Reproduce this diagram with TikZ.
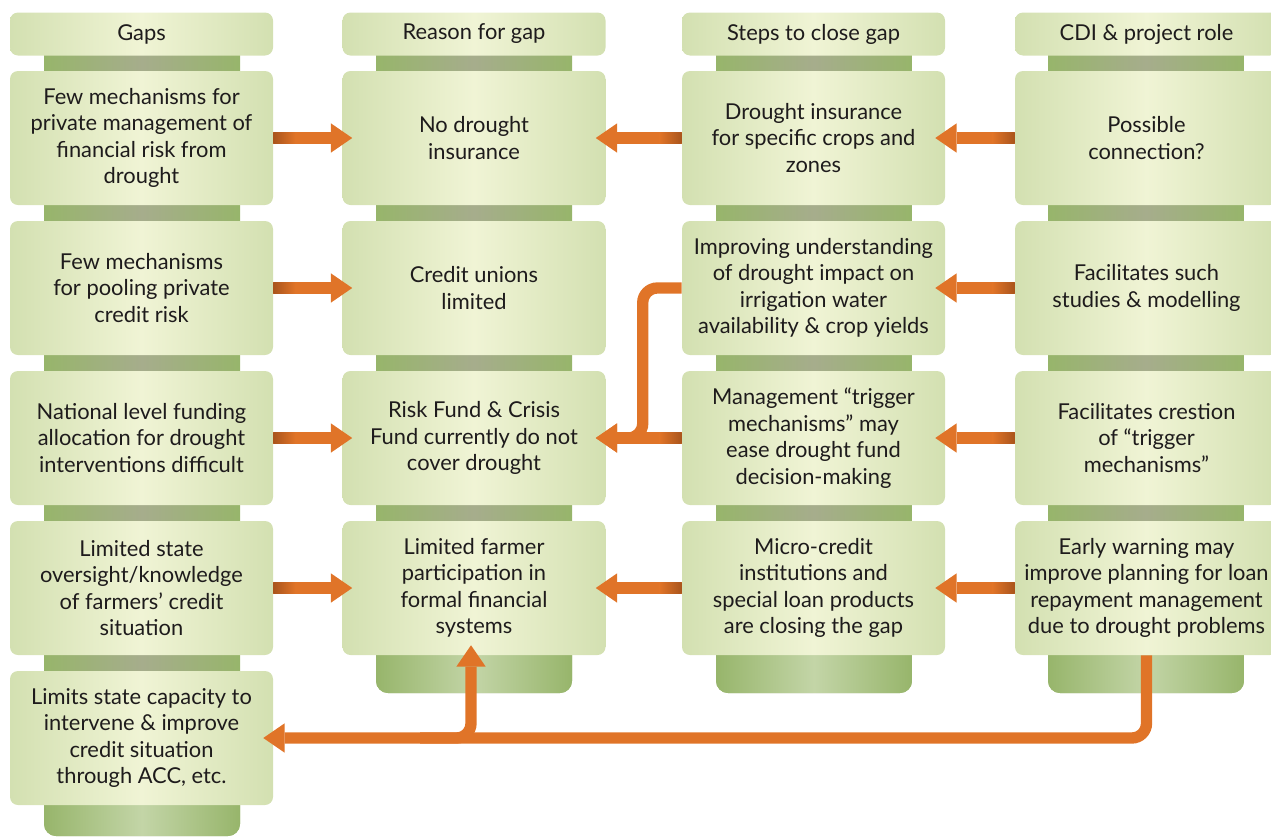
\documentclass[tikz,border=0pt]{standalone}
\usepackage{fontspec}
\setmainfont{Lato}
\usetikzlibrary{arrows.meta,calc}
\definecolor{boxedge}{HTML}{D3E0B1}
\definecolor{boxmid}{HTML}{F0F4D5}
\definecolor{pillaredge}{HTML}{97B56B}
\definecolor{pillarmid}{HTML}{A6AD8C}
\definecolor{pillarlight}{HTML}{C3D5A7}
\definecolor{flow}{HTML}{E07428}
\definecolor{flowdark}{HTML}{A9541C}
\definecolor{ink}{HTML}{1E1B1C}
\begin{document}
\begin{tikzpicture}[x=0.75pt,y=-0.75pt,
  card/.style={minimum width=197.25pt, minimum height=100.5pt, rounded corners=6pt,
    left color=boxedge, right color=boxedge, middle color=boxmid,
    align=center, text=ink, inner sep=0pt,
    font=\fontsize{16.4}{19.9}\selectfont},
  head/.style={card, minimum height=32.25pt},
  pillar/.style={left color=pillaredge, right color=pillaredge, middle color=pillarmid, rounded corners=9pt},
  pillarfoot/.style={left color=pillaredge, right color=pillaredge, middle color=pillarlight, rounded corners=9pt},
  flowarrow/.style={draw=flow, line width=8.5pt, rounded corners=11pt,
    -{Triangle[width=22pt,length=16pt,line width=0pt]}},
  shaftL/.style={left color=flowdark, right color=flow},
  shaftR/.style={left color=flow, right color=flowdark}]
\useasboundingbox (0,0) rectangle (1271,836);
\clip (0,0) rectangle (1271,836);

% column pillars
\shade[pillar] (44,40) rectangle (240,836);
\shade[pillarfoot] (44,790) rectangle (240,836);
\foreach \cx in {474,814,1146}{
  \shade[pillar] (\cx-98,40) rectangle (\cx+98,693);
  \shade[pillarfoot] (\cx-98,640) rectangle (\cx+98,693);
}

% headers
\node[head] (h1) at (141.5,34) {Gaps};
\node[head] (h2) at (474,34) {Reason for gap};
\node[head] (h3) at (813.5,34) {Steps to close gap};
\node[head] (h4) at (1146.5,34) {CDI \& project role};

% gaps
\node[card] (g1) at (141.5,138) {Few mechanisms for\\private management of\\financial risk from\\drought};
\node[card] (g2) at (141.5,288) {Few mechanisms\\for pooling private\\credit risk};
\node[card] (g3) at (141.5,438) {National level funding\\allocation for drought\\interventions difficult};
\node[card] (g4) at (141.5,588) {Limited state\\oversight/knowledge\\of farmers’ credit\\situation};
\node[card] (g5) at (141.5,738) {Limits state capacity to\\intervene \& improve\\credit situation\\through ACC, etc.};

% reasons
\node[card] (r1) at (474,138) {No drought\\insurance};
\node[card] (r2) at (474,288) {Credit unions\\limited};
\node[card] (r3) at (474,438) {Risk Fund \& Crisis\\Fund currently do not\\cover drought};
\node[card] (r4) at (474,588) {Limited farmer\\participation in\\formal financial\\systems};

% steps
\node[card] (s1) at (813.5,138) {Drought insurance\\for specific crops and\\zones};
\node[card] (s2) at (813.5,288) {Improving understanding\\of drought impact on\\irrigation water\\availability \& crop yields};
\node[card] (s3) at (813.5,438) {Management “trigger\\mechanisms” may\\ease drought fund\\decision-making};
\node[card] (s4) at (813.5,588) {Micro-credit\\institutions and\\special loan products\\are closing the gap};

% roles
\node[card] (c1) at (1146.5,138) {Possible\\connection?};
\node[card] (c2) at (1146.5,288) {Facilitates such\\studies \& modelling};
\node[card] (c3) at (1146.5,438) {Facilitates crestion\\of “trigger\\mechanisms”};
\node[card] (c4) at (1146.5,588) {Early warning may\\improve planning for loan\\repayment management\\due to drought problems};

% straight links
\foreach \i in {1,2,3,4}{
  \draw[flowarrow] (g\i.east) -- ($(r\i.west)+(10,0)$);
  \draw[flowarrow] (c\i.west) -- ($(s\i.east)+(-10,0)$);
  \shade[shaftL] ($(g\i.east)+(0,-5.67)$) rectangle ++(22,11.33);
  \shade[shaftR] ($(c\i.west)+(-22,-5.67)$) rectangle ++(22,11.33);
}
\foreach \i in {1,3,4}{
  \draw[flowarrow] (s\i.west) -- ($(r\i.east)+(-10,0)$);
  \shade[shaftR] ($(s\i.west)+(-22,-5.67)$) rectangle ++(22,11.33);
}

% routed links
\draw[flowarrow] (s2.west) -- ++(-39,0) |- ($(r3.east)+(-10,0)$);
\draw[flowarrow] (c4.south) |- ($(g5.east)+(-10,0)$);
\coordinate (split) at (420,738);
\draw[flowarrow] (split) -| ($(r4.south)+(-3,-10)$);
\end{tikzpicture}
\end{document}
